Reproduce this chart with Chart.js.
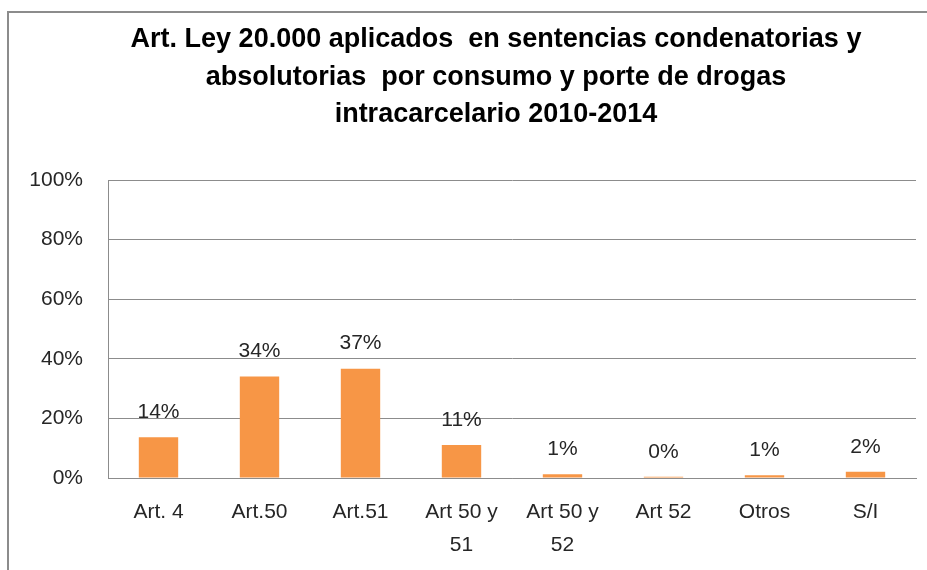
<!DOCTYPE html>
<html>
<head>
<meta charset="utf-8">
<script src="https://cdn.jsdelivr.net/npm/chart.js@4"></script>
<style>
  html, body { margin: 0; padding: 0; background: #fff; overflow: hidden; width: 927px; height: 570px; }
  #frame { position: absolute; left: 7px; top: 11px; width: 1000px; height: 600px; border: 2px solid #8c8c8c; box-sizing: border-box; }
  #wrap { position: absolute; left: 0; top: 0; width: 992px; height: 570px; }
</style>
</head>
<body>
<div id="frame"></div>
<div id="wrap"><canvas id="chart"></canvas></div>
<script>
// Datos (porcentaje de sentencias)
const categories = ['Art. 4', 'Art.50', 'Art.51', ['Art 50 y', '51'], ['Art 50 y', '52'], 'Art 52', 'Otros', 'S/I'];
const shares = [13.7, 34.1, 36.7, 11.1, 1.3, 0.4, 0.9, 2.1];
const shareLabels = ['14%', '34%', '37%', '11%', '1%', '0%', '1%', '2%'];
const yTicks = [0, 20, 40, 60, 80, 100];

const titleLines = [
    'Art. Ley 20.000 aplicados  en sentencias condenatorias y',
    'absolutorias  por consumo y porte de drogas',
    'intracarcelario 2010-2014'
];

const BODY_FONT = "'Liberation Sans', Arial, sans-serif";

// title centred on the whole (cropped) chart, not on the padded box
const centredTitle = {
    id: 'centredTitle',
    afterDraw(chart) {
        const ctx = chart.ctx;
        ctx.save();
        ctx.font = 'bold 27px ' + BODY_FONT;
        ctx.fillStyle = '#000';
        ctx.textAlign = 'center';
        ctx.textBaseline = 'middle';
        titleLines.forEach((line, i) => {
            ctx.fillText(line, chart.width / 2, 40 + i * 37.5);
        });
        ctx.restore();
    }
};

// value labels above each bar
const valueLabels = {
    id: 'valueLabels',
    afterDatasetsDraw(chart) {
        const ctx = chart.ctx;
        const meta = chart.getDatasetMeta(0);
        ctx.save();
        ctx.font = '21px ' + BODY_FONT;
        ctx.fillStyle = '#262626';
        ctx.textAlign = 'center';
        ctx.textBaseline = 'middle';
        meta.data.forEach((bar, i) => {
            ctx.fillText(shareLabels[i], bar.x, bar.y - 25);
        });
        ctx.restore();
    }
};

new Chart(document.getElementById('chart').getContext('2d'), {
    type: 'bar',
    data: {
        labels: categories,
        datasets: [{
            data: shares,
            backgroundColor: '#f79646',
            borderWidth: 0,
            barPercentage: 0.39,
            categoryPercentage: 1.0
        }]
    },
    options: {
        responsive: true, maintainAspectRatio: false,
        animation: false,
        layout: { padding: { left: 0, right: 76, top: 180, bottom: 0 } },
        plugins: {
            legend: { display: false },
            tooltip: { enabled: false },
            title: { display: false }
        },
        scales: {
            x: {
                grid: { display: false, drawTicks: false },
                border: { display: true, color: '#8c8c8c', width: 1 },
                ticks: {
                    color: '#262626', maxRotation: 0, autoSkip: false, padding: 18,
                    font: { family: BODY_FONT, size: 21, lineHeight: 1.55 }
                },
                afterFit: s => { s.height = 92; }
            },
            y: {
                min: 0, max: 100,
                afterBuildTicks: s => { s.ticks = yTicks.map(v => ({ value: v })); },
                grid: { color: '#8c8c8c', lineWidth: 1, drawTicks: false },
                border: { display: true, color: '#8c8c8c', width: 1 },
                ticks: {
                    color: '#262626', padding: 25,
                    font: { family: BODY_FONT, size: 21 },
                    callback: v => v + '%'
                },
                afterFit: s => { s.width = 108; }
            }
        }
    },
    plugins: [valueLabels, centredTitle]
});
</script>
</body>
</html>
